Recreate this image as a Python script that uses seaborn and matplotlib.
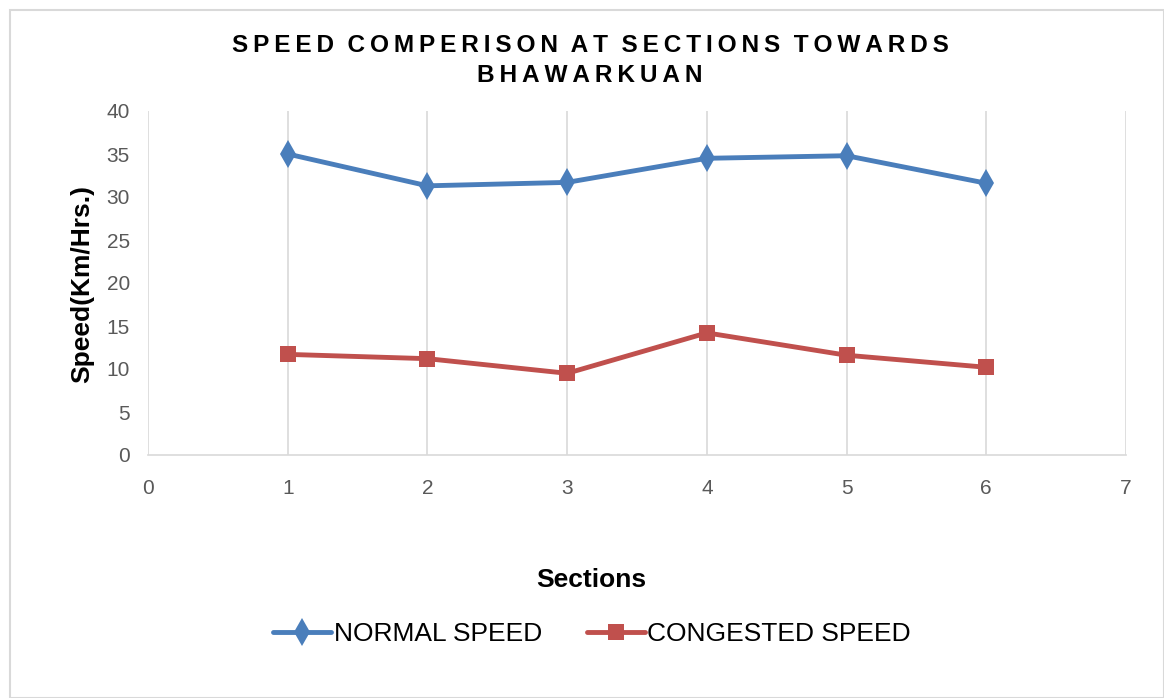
import matplotlib
matplotlib.use("Agg")
import matplotlib.pyplot as plt
import seaborn as sns
import pandas as pd
from matplotlib.patches import Rectangle

sections = [1, 2, 3, 4, 5, 6]
normal_speed = [35.0, 31.3, 31.7, 34.5, 34.8, 31.6]
congested_speed = [11.7, 11.2, 9.5, 14.2, 11.6, 10.2]
series_names = ["NORMAL SPEED", "CONGESTED SPEED"]
x_ticks = [0, 1, 2, 3, 4, 5, 6, 7]
y_ticks = [0, 5, 10, 15, 20, 25, 30, 35, 40]
title_lines = ["SPEED COMPERISON AT SECTIONS TOWARDS", "BHAWARKUAN"]

df = pd.DataFrame({
    "Sections": sections * 2,
    "Speed": normal_speed + congested_speed,
    "Series": [series_names[0]] * len(sections) + [series_names[1]] * len(sections),
})

sns.set_theme(style="white")
plt.rcParams['font.family'] = ['Liberation Sans', 'DejaVu Sans']
plt.rcParams['text.color'] = 'black'

fig = plt.figure(figsize=(11.64, 6.98), dpi=100)
ax = fig.add_axes([148/1164, 1 - 455/698, (1126-148)/1164, (455-111)/698])

palette = {series_names[0]: "#4a7ebb", series_names[1]: "#c0504d"}
sns.lineplot(data=df, x="Sections", y="Speed", hue="Series", style="Series",
             markers={series_names[0]: "d", series_names[1]: "s"}, dashes=False,
             palette=palette, linewidth=3.5, markersize=11, markeredgewidth=0,
             ax=ax, legend=True)
for line in ax.lines:
    if line.get_marker() == "d":
        line.set_markersize(14)

ax.set_xlim(0, 7)
ax.set_ylim(0, 40)
ax.set_xticks(x_ticks)
ax.set_yticks(y_ticks)
ax.xaxis.grid(True, color="#d9d9d9", linewidth=1.2)
ax.yaxis.grid(False)
for s in ["top", "right", "left"]:
    ax.spines[s].set_visible(False)
ax.spines["bottom"].set_color("#d9d9d9")
ax.spines["bottom"].set_linewidth(1.2)
ax.tick_params(axis="both", colors="#595959", labelsize=15, length=0)
ax.tick_params(axis="x", pad=17)
ax.tick_params(axis="y", pad=13)
ax.set_axisbelow(True)

ax.set_xlabel("Sections", fontsize=19, fontweight="bold", color="black")
ax.set_ylabel("Speed(Km/Hrs.)", fontsize=19, fontweight="bold", color="black")
ax.xaxis.set_label_coords((591 - 148) / 978, (455 - 580) / 344)
ax.yaxis.set_label_coords((82 - 148) / 978, (455 - 284) / 344)
ax.xaxis.label.set_va("center")
ax.yaxis.label.set_va("center")

def spaced(s):
    return "\u2009".join(s).replace("\u2009 \u2009", "  ")

fig.text(590/1164, 1 - 45/698, spaced(title_lines[0]), color="black",
         ha="center", va="center", fontsize=17.6, fontweight="bold")
fig.text(590/1164, 1 - 76/698, spaced(title_lines[1]), color="black",
         ha="center", va="center", fontsize=17.6, fontweight="bold")

handles, labels = ax.get_legend_handles_labels()
for h in handles:
    h.set_linewidth(3.5)
leg = ax.legend(handles, labels, loc="center", bbox_to_anchor=(592/1164, 1 - 634/698),
                bbox_transform=fig.transFigure, ncol=2, frameon=False, fontsize=19,
                handlelength=2.2, columnspacing=1.7, handletextpad=0.1)
for t in leg.get_texts():
    t.set_color("black")

fig.patches.append(Rectangle((10/1164, 0), 1 - 10/1164, 1 - 10/698, transform=fig.transFigure,
                             fill=False, edgecolor="#d9d9d9", linewidth=1.5))

fig.savefig("out.png", dpi=100)
